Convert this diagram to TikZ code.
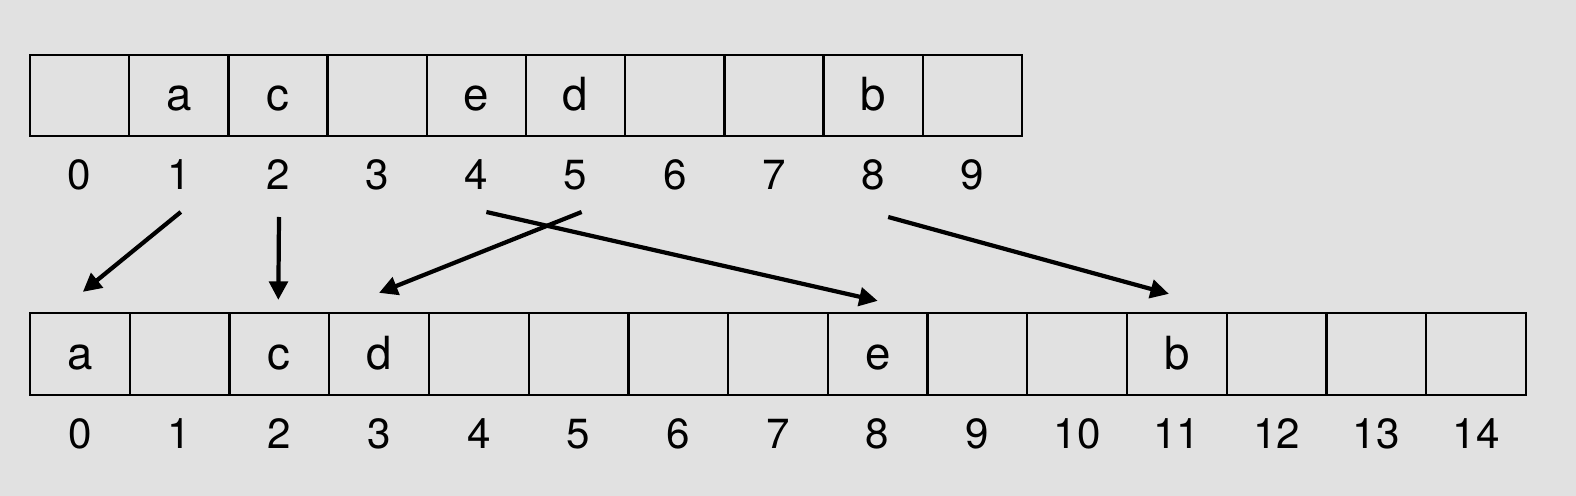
\documentclass[tikz,border=0pt]{standalone}
\usepackage{fontspec}
\setmainfont{TeX Gyre Heros}
\usetikzlibrary{positioning,calc,arrows.meta}
\definecolor{bggray}{HTML}{E1E1E1}

\begin{document}
\begin{tikzpicture}[x=0.02cm,y=-0.02cm,
    topcell/.style={draw, line width=1.3pt, minimum width=1.984cm, minimum height=1.62cm,
      inner sep=0pt, text height=17.6pt, text depth=0pt, font=\fontsize{26}{30}\selectfont},
    botcell/.style={topcell, minimum width=1.995cm, minimum height=1.64cm},
    idx/.style={inner sep=0pt, font=\fontsize{24}{28}\selectfont},
    arr/.style={-{Triangle[length=10.5pt,width=10.5pt]}, line width=2.4pt}]

    % Background
    \fill[bggray] (0,0) rectangle (1576,496);
    \useasboundingbox (0,0) rectangle (1576,496);

    % Top array
    \foreach \t [count=\i from 0] in {{},a,c,{},e,d,{},{},b,{}} {
        \node[topcell] (t\i) at ({30+99.2*(\i+0.5)},95.5) {\t};
        \node[idx] (ti\i) at ({30+99.2*(\i+0.5)},175) {\i};
    }

    % Bottom array
    \foreach \t [count=\i from 0] in {a,{},c,d,{},{},{},{},e,{},{},b,{},{},{}} {
        \node[botcell] (b\i) at ({30+99.73*(\i+0.5)},354) {\t};
        \node[idx] (bi\i) at ({30+99.73*(\i+0.5)},434) {\i};
    }

    % Moves
    \draw[arr] ($(ti1)+(2,37)$) -- ($(b0.north)+(3,-20)$);
    \draw[arr] ($(ti2)+(1,42)$) -- ($(b2.north)+(-1,-12)$);
    \draw[arr] ($(ti5)+(6,37)$) -- ($(b3.north)+(0,-19)$);
    \draw[arr] ($(ti4)+(10,37)$) -- ($(b8.north)+(0,-11)$);
    \draw[arr] ($(ti8)+(15,42)$) -- ($(b11.north)+(-8,-18)$);
\end{tikzpicture}
\end{document}
